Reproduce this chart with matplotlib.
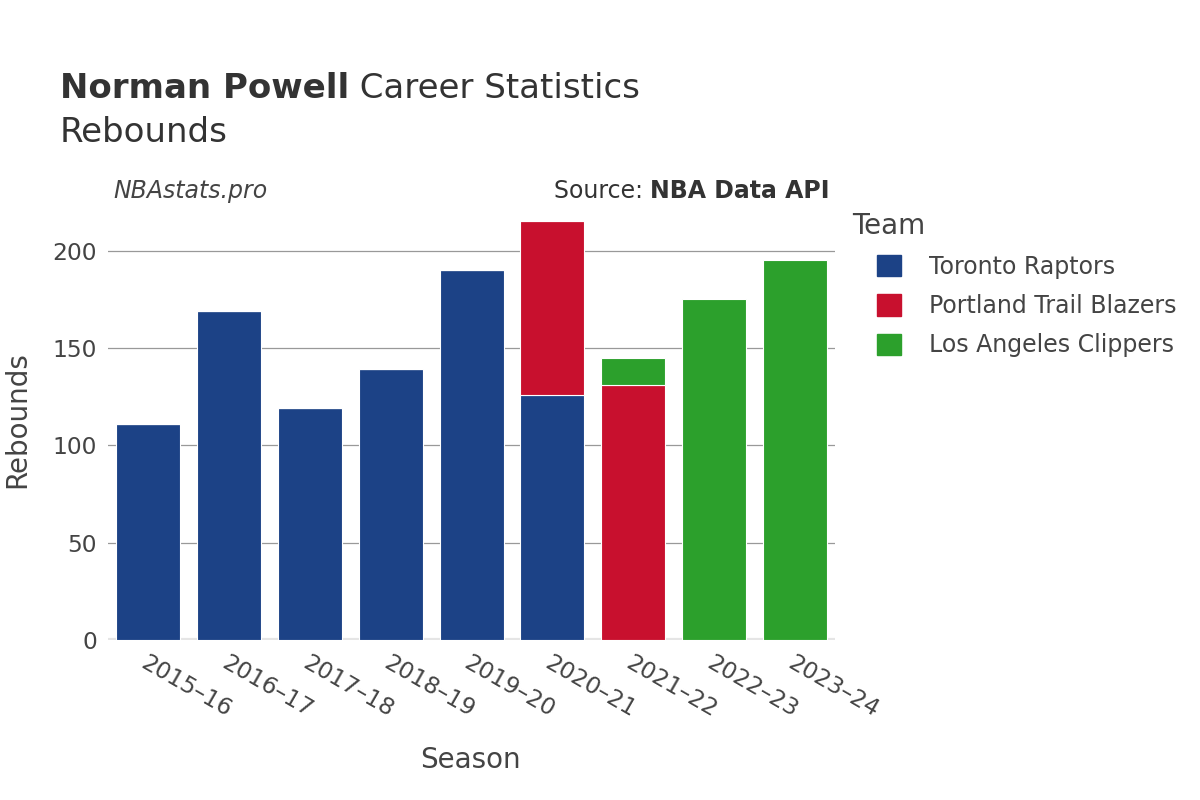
import matplotlib.pyplot as plt
import numpy as np
from matplotlib.patches import Patch

seasons = ['2015–16', '2016–17', '2017–18', '2018–19', '2019–20',
           '2020–21', '2021–22', '2022–23', '2023–24']
teams = ['Toronto Raptors', 'Portland Trail Blazers', 'Los Angeles Clippers']
colors = ['#1c4286', '#c8102e', '#2ca02c']

# rebounds per team for each season (0 = did not play for that team)
raptors = [111, 169, 119, 139, 190, 126, 0, 0, 0]
blazers = [0, 0, 0, 0, 0, 89, 131, 0, 0]
clippers = [0, 0, 0, 0, 0, 0, 14, 175, 195]

plt.rcParams['font.family'] = ['DejaVu Sans']
fig = plt.figure(figsize=(12, 8), dpi=100)
ax = fig.add_axes([0.09, 0.2, 0.606, 0.55])

x = np.arange(len(seasons))
vals = [raptors, blazers, clippers]
bottom = np.zeros(len(seasons))
for i, team in enumerate(teams):
    v = np.array(vals[i], dtype=float)
    ax.bar(x, v, width=0.79, bottom=bottom, color=colors[i],
           edgecolor='white', linewidth=0.8, zorder=3)
    bottom += v

ax.set_xlim(-0.5, len(seasons) - 0.5)
ax.set_ylim(0, 226)
ax.set_yticks([0, 50, 100, 150, 200])
ax.grid(axis='y', color='#999999', linewidth=0.9, zorder=0)
ax.axhline(0, color='#e5e5e5', linewidth=3, zorder=2)
for s in ax.spines.values():
    s.set_visible(False)
ax.tick_params(length=0, labelsize=16.8, colors='#444444', pad=8)
ax.set_xticks(x)
ax.set_xticklabels(seasons, rotation=-30, ha='left', rotation_mode='anchor')

fig.text(470 / 1200, 1 - 760 / 800, 'Season', fontsize=20, color='#444444',
         ha='center', va='center')
fig.text(17 / 1200, 1 - 420 / 800, 'Rebounds', fontsize=20, color='#444444',
         ha='center', va='center', rotation=90)

fig.canvas.draw()
r = fig.canvas.get_renderer()

t1 = fig.text(60 / 1200, 1 - 88 / 800, 'Norman Powell', fontsize=24.5, fontweight='bold',
              color='#333333', va='center')
bb = t1.get_window_extent(renderer=r)
fig.text(bb.x1 / 1200, 1 - 88 / 800, ' Career Statistics', fontsize=24.5,
         color='#333333', va='center')
fig.text(60 / 1200, 1 - 132 / 800, 'Rebounds', fontsize=24.5, color='#333333',
         va='center')

fig.text(113 / 1200, 1 - 191 / 800, 'NBAstats.pro', fontsize=17, style='italic',
         color='#444444', va='center')
t2 = fig.text(830 / 1200, 1 - 191 / 800, 'NBA Data API', fontsize=17, fontweight='bold',
              color='#333333', va='center', ha='right')
bb2 = t2.get_window_extent(renderer=r)
fig.text(bb2.x0 / 1200, 1 - 191 / 800, 'Source: ', fontsize=17,
         color='#333333', va='center', ha='right')

fig.text(852 / 1200, 1 - 226 / 800, 'Team', fontsize=20, color='#444444', va='center')
handles = [Patch(facecolor=c, edgecolor=c) for c in colors]
leg = fig.legend(handles, teams, loc='upper left', bbox_to_anchor=(877 / 1200, 1 - 255 / 800),
                 frameon=False, fontsize=17, borderpad=0,
                 handlelength=1.0, handleheight=1.0, handletextpad=1.2,
                 labelspacing=0.64, borderaxespad=0)
for t in leg.get_texts():
    t.set_color('#444444')

fig.savefig('out.png', dpi=100)
